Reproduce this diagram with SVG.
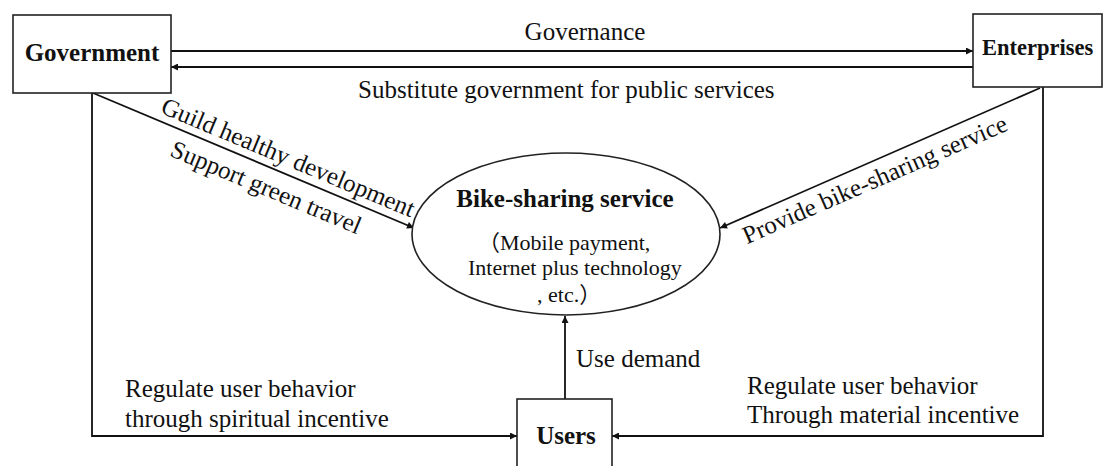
<svg xmlns="http://www.w3.org/2000/svg" width="1103" height="466" viewBox="0 0 1103 466">
<defs>
<style>
.box{fill:#fff;stroke:#222;stroke-width:1.6}
.ln{fill:none;stroke:#111;stroke-width:1.8}
.t{font-family:"Liberation Serif","Noto Sans CJK SC",serif;font-size:25px;fill:#111}
.b{font-weight:bold}
.s{font-size:22px}
</style>
<marker id="ah" viewBox="0 0 10 10" refX="10" refY="5" markerWidth="9" markerHeight="7" markerUnits="userSpaceOnUse" orient="auto">
<path d="M0,0 L10,5 L0,10 z" fill="#111"/>
</marker>
</defs>
<rect width="1103" height="466" fill="#fff"/>
<g id="connectors">
<line class="ln" x1="171" y1="51" x2="973" y2="51" marker-end="url(#ah)"/>
<line class="ln" x1="973" y1="67" x2="171" y2="67" marker-end="url(#ah)"/>
<line class="ln" x1="93" y1="93" x2="414" y2="228" marker-end="url(#ah)"/>
<line class="ln" x1="1040" y1="88" x2="720" y2="228" marker-end="url(#ah)"/>
<polyline class="ln" points="92,93 92,436 517,436" marker-end="url(#ah)"/>
<polyline class="ln" points="1043,87 1043,436 612,436" marker-end="url(#ah)"/>
<line class="ln" x1="565" y1="399" x2="565" y2="316" marker-end="url(#ah)"/>
<text class="t" x="585" y="40" text-anchor="middle">Governance</text>
<text class="t" x="358" y="98">Substitute government for public services</text>
<text class="t" x="285" y="165" text-anchor="middle" transform="rotate(22.7 285 165)">Guild healthy development</text>
<text class="t" x="263" y="195" text-anchor="middle" transform="rotate(22.7 263 195)">Support green travel</text>
<text class="t" x="878" y="187" text-anchor="middle" transform="rotate(-23.6 878 187)">Provide bike-sharing service</text>
<text class="t" x="576" y="367">Use demand</text>
<text class="t" x="125" y="397">Regulate user behavior</text>
<text class="t" x="125" y="427">through spiritual incentive</text>
<text class="t" x="747" y="394">Regulate user behavior</text>
<text class="t" x="747" y="423">Through material incentive</text>
</g>
<g id="government">
<rect class="box" x="13" y="15" width="158" height="78"/>
<text class="t b" x="92" y="61" text-anchor="middle">Government</text>
</g>
<g id="enterprises">
<rect class="box" x="973" y="14" width="129" height="73"/>
<text class="t b" x="982" y="55" style="font-size:22.5px">Enterprises</text>
</g>
<g id="bike-sharing">
<ellipse class="box" cx="566" cy="234" rx="154" ry="81"/>
<text class="t b" x="565" y="207" text-anchor="middle">Bike-sharing service</text>
<text class="t s" x="478" y="250">（Mobile payment,</text>
<text class="t s" x="468" y="275">Internet plus technology</text>
<text class="t s" x="537" y="302">, etc.）</text>
</g>
<g id="users">
<rect class="box" x="517" y="399" width="95" height="80"/>
<text class="t b" x="566" y="444" text-anchor="middle">Users</text>
</g>
</svg>
